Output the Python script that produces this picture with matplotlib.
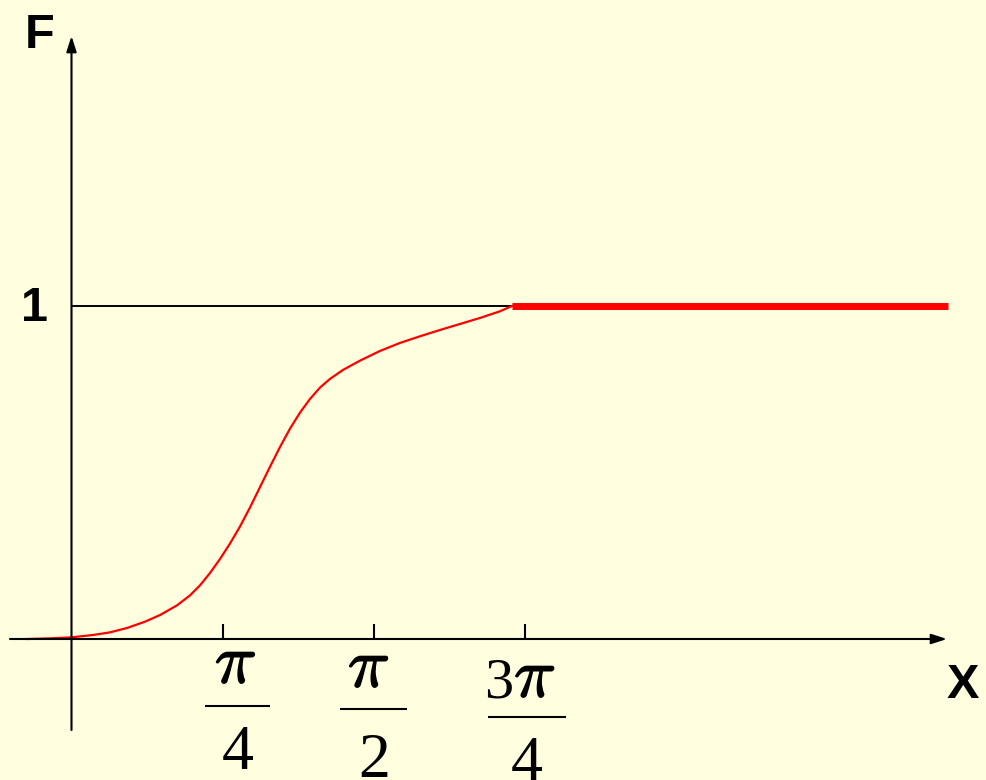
import numpy as np
import matplotlib
matplotlib.use("Agg")
import matplotlib.pyplot as plt
import matplotlib.patheffects as pe

# distribution function F(x); x given in multiples of pi/4
x_curve_q = [-0.294, -0.142, 0.0, 0.142, 0.255, 0.367, 0.486, 0.586, 0.698, 0.784,
             0.850, 0.916, 0.982, 1.049, 1.115, 1.181, 1.247, 1.313, 1.380, 1.446,
             1.512, 1.578, 1.644, 1.710, 1.796, 1.909, 2.041, 2.173, 2.305, 2.438,
             2.570, 2.702, 2.834, 2.914]
f_curve = [0.0, 0.002, 0.005, 0.012, 0.020, 0.033, 0.052, 0.072, 0.101, 0.131,
           0.161, 0.198, 0.240, 0.287, 0.338, 0.395, 0.456, 0.517, 0.577, 0.632,
           0.680, 0.721, 0.755, 0.781, 0.808, 0.836, 0.865, 0.889, 0.909, 0.928,
           0.946, 0.964, 0.984, 1.0]

# constant part, F = 1
x_flat_q = [2.914, 5.80]
f_flat = [1.0, 1.0]

# x ticks (multiples of pi/4) and their fraction labels
tick_q = [1, 2, 3]
tick_coef = ["", "", "3"]
tick_den = ["4", "2", "4"]

Q = np.pi / 4
BG = "#FFFFE0"
W, H = 986, 780

# pixel scale of the drawing
ORIGIN_X, ORIGIN_Y = 71.5, 639
PX_Q = 151.15   # pixels per pi/4
PX_F = 333.0    # pixels per unit of F


def px_to_data(px, py):
    return (px - ORIGIN_X) / PX_Q * Q, (ORIGIN_Y - py) / PX_F


fig = plt.figure(figsize=(W / 100, H / 100), dpi=100)
fig.patch.set_facecolor(BG)
ax = fig.add_axes([0, 0, 1, 1])
ax.set_facecolor(BG)
ax.axis("off")
x0, y1 = px_to_data(0, 0)
x1, y0 = px_to_data(W, H)
ax.set_xlim(x0, x1)
ax.set_ylim(y0, y1)

# axes with arrow heads
arrow = dict(arrowstyle="-|>,head_length=0.62,head_width=0.2", mutation_scale=15,
             color="black", lw=1.5, shrinkA=0, shrinkB=0)
xa0, _ = px_to_data(10, 0)
xa1, _ = px_to_data(947, 0)
ax.annotate("", xy=(xa1, 0), xytext=(xa0, 0), arrowprops=arrow)
_, ya0 = px_to_data(0, 730)
_, ya1 = px_to_data(0, 36)
ax.annotate("", xy=(0, ya1), xytext=(0, ya0), arrowprops=arrow)

# ticks on the x axis
tick_x = np.array(tick_q) * Q
ax.vlines(tick_x, 0, 15 / PX_F, color="black", lw=1.5)

# level F = 1
xc = np.array(x_curve_q) * Q
xf = np.array(x_flat_q) * Q
ax.plot([0, xc[-1]], [1, 1], color="black", lw=1.4, solid_capstyle="butt")

# F(x)
ax.plot(xc, f_curve, color="#FF0000", lw=1.6, solid_joinstyle="round")
ax.plot(xf, f_flat, color="#FF0000", lw=5, solid_capstyle="butt")

# fraction labels under the ticks (pixel offsets from the tick)
pi_dx = [13, -5, 10]
num_dy = [44, 48, 58]
bar_dx = [15, 0, 2]
bar_dy = [67, 70, 78]
bar_hw = [32.5, 33.5, 39]
den_dy = [130, 138, 141]
serif = dict(family="Liberation Serif", fontsize=46, va="baseline",
             textcoords="offset pixels")
heavy = [pe.withStroke(linewidth=1.1, foreground="black")]
for i, tx in enumerate(tick_x):
    ax.annotate(r"$\pi$", xy=(tx, 0), xytext=(pi_dx[i], -num_dy[i]),
                math_fontfamily="cm", ha="center", path_effects=heavy,
                **{**serif, "fontsize": 50})
    if tick_coef[i]:
        ax.annotate(tick_coef[i], xy=(tx, 0), xytext=(pi_dx[i] - 22, -num_dy[i]),
                    ha="right", **{**serif, "fontsize": 42})
    cx = tx + bar_dx[i] / PX_Q * Q
    hw = bar_hw[i] / PX_Q * Q
    ax.plot([cx - hw, cx + hw], [-bar_dy[i] / PX_F] * 2, color="black", lw=1.5,
            solid_capstyle="butt")
    ax.annotate(tick_den[i], xy=(tx, 0), xytext=(bar_dx[i], -den_dy[i]),
                ha="center", **serif)

# axis names and the level mark
bold = dict(fontsize=35, fontweight="bold", family="Liberation Sans",
            ha="center", va="baseline")
ax.text(*px_to_data(39.5, 48), "F", **bold)
ax.text(*px_to_data(963, 698), "X", **bold)
ax.text(*px_to_data(35, 321), "1", **bold)

fig.savefig("out.png", dpi=100, facecolor=BG)
